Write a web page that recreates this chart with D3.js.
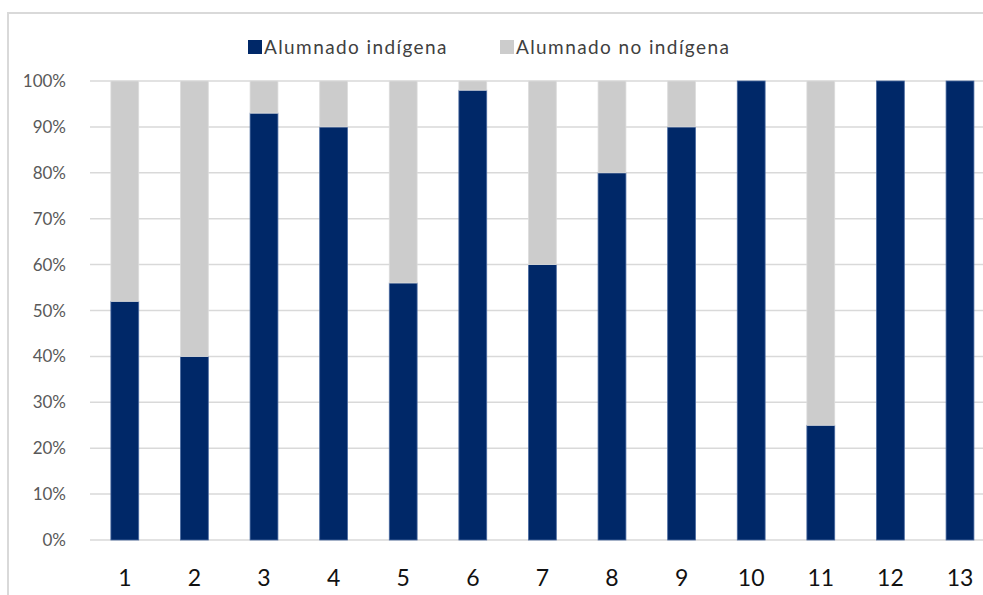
<!DOCTYPE html>
<html>
<head>
<meta charset="utf-8">
<script src="https://cdn.jsdelivr.net/npm/d3@7"></script>
<style>
  body { margin: 0; background: #fff; overflow: hidden; }
  svg { display: block; }
  text { font-family: Lato, "Noto Sans", sans-serif; }
</style>
</head>
<body>
<div id="chart"></div>
<script>
// data
var categories = ["1", "2", "3", "4", "5", "6", "7", "8", "9", "10", "11", "12", "13"];
var indigena   = [52, 40, 93, 90, 56, 98, 60, 80, 90, 100, 25, 100, 100];
var noIndigena = indigena.map(function (v) { return 100 - v; });
var seriesNames = ["Alumnado indígena", "Alumnado no indígena"];
var yTicks = [0, 10, 20, 30, 40, 50, 60, 70, 80, 90, 100];

var W = 983, H = 595;
var margin = { top: 81, left: 90, bottom: 55 };
var plotH = H - margin.top - margin.bottom;

var svg = d3.select("#chart").append("svg")
    .attr("width", W)
    .attr("height", H);

// outer chart frame: only the top and left edges are visible
svg.append("path")
    .attr("d", "M8," + H + "V13H" + W)
    .attr("fill", "none")
    .attr("stroke", "#d9d9d9")
    .attr("stroke-width", 2);

var x = d3.scaleBand()
    .domain(categories)
    .range([margin.left, margin.left + 13 * 69.6])
    .paddingInner(0.6)
    .paddingOuter(0.3);

var y = d3.scaleLinear()
    .domain([0, 100])
    .range([margin.top + plotH, margin.top]);

var g = svg.append("g");

// gridlines
g.selectAll("line.grid")
    .data(yTicks)
    .enter().append("line")
    .attr("class", "grid")
    .attr("x1", margin.left)
    .attr("x2", W)
    .attr("y1", function (d) { return y(d); })
    .attr("y2", function (d) { return y(d); })
    .attr("stroke", "#d9d9d9")
    .attr("stroke-width", 1.5);

// y labels
g.selectAll("text.ylab")
    .data(yTicks)
    .enter().append("text")
    .attr("class", "ylab")
    .attr("x", 66)
    .attr("y", function (d) { return y(d) + 6; })
    .attr("text-anchor", "end")
    .attr("font-size", 17)
    .attr("fill", "#595959")
    .text(function (d) { return d + "%"; });

// stacked bars
var rows = categories.map(function (c, i) {
    return { cat: c, a: indigena[i], b: noIndigena[i] };
});
var stack = d3.stack().keys(["a", "b"]);
var layers = stack(rows);
var colors = ["#002868", "#cccccc"];
var strokes = ["#4a6aa0", "#dcdcdc"];

layers.forEach(function (layer, k) {
    g.selectAll("rect.s" + k)
        .data(layer.filter(function (d) { return d[1] - d[0] > 0; }))
        .enter().append("rect")
        .attr("class", "s" + k)
        .attr("x", function (d) { return x(d.data.cat); })
        .attr("width", x.bandwidth())
        .attr("y", function (d) { return y(d[1]); })
        .attr("height", function (d) { return y(d[0]) - y(d[1]); })
        .attr("fill", colors[k])
        .attr("stroke", strokes[k])
        .attr("stroke-width", 0.8);
});

// x labels
g.selectAll("text.xlab")
    .data(categories)
    .enter().append("text")
    .attr("class", "xlab")
    .attr("x", function (d) { return x(d) + x.bandwidth() / 2; })
    .attr("y", 586)
    .attr("text-anchor", "middle")
    .attr("font-size", 23)
    .attr("fill", "#111")
    .text(function (d) { return d; });

// legend
var legendX = [248, 500];
var legend = svg.selectAll("g.legend")
    .data(seriesNames)
    .enter().append("g")
    .attr("class", "legend")
    .attr("transform", function (d, i) { return "translate(" + legendX[i] + ",40)"; });
legend.append("rect")
    .attr("width", 14).attr("height", 14)
    .attr("fill", function (d, i) { return colors[i]; });
legend.append("text")
    .attr("x", 16).attr("y", 14)
    .attr("font-size", 19)
    .attr("letter-spacing", 1.4)
    .attr("fill", "#404040")
    .text(function (d) { return d; });
</script>
</body>
</html>
